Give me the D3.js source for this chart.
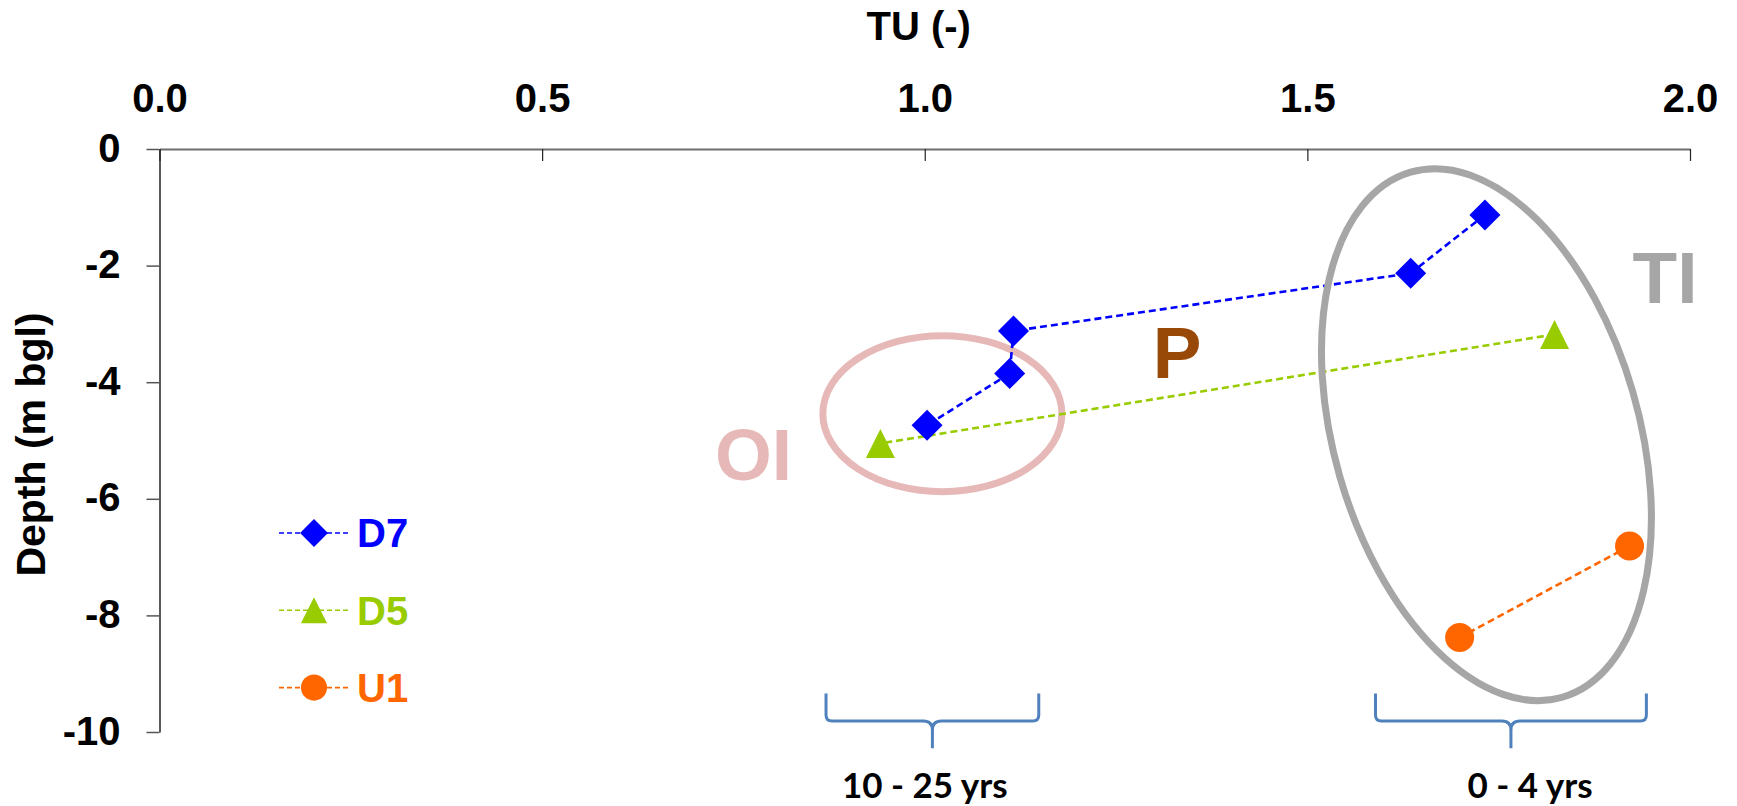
<!DOCTYPE html>
<html>
<head>
<meta charset="utf-8">
<script src="https://cdn.jsdelivr.net/npm/d3@7"></script>
<style>
  html, body { margin: 0; padding: 0; background: #fff; }
  svg { display: block; font-family: "Liberation Sans", Arial, sans-serif; }
</style>
</head>
<body>
<div id="chart"></div>
<script>
// series data (TU vs depth)
const seriesNames = ["D7", "D5", "U1"];
const d7TU = [1.732, 1.635, 1.116, 1.111, 1.003];
const d7Depth = [-1.13, -2.13, -3.12, -3.85, -4.74];
const d5TU = [1.823, 0.942];
const d5Depth = [-3.18, -5.05];
const u1TU = [1.921, 1.699];
const u1Depth = [-6.81, -8.38];

const xTicks = [0, 0.5, 1, 1.5, 2];
const yTicks = [0, -2, -4, -6, -8, -10];

// zone annotations
const zoneLabels = ["OI", "P", "TI"];
const zoneTU = [0.726, 1.298, 1.925];
const zoneDepth = [-5.68, -3.93, -2.64];

// age brackets under the plot
const ageLabels = ["10 - 25 yrs", "0 - 4 yrs"];
const ageFrom = [0.871, 1.589];
const ageTo = [1.149, 1.943];
const ageTextTU = [1.0, 1.791];

const W = 1737, H = 806;
const margin = { top: 149, right: 47, bottom: 74, left: 159.5 };

const x = d3.scaleLinear().domain([0, 2]).range([margin.left, W - margin.right]);
const y = d3.scaleLinear().domain([0, -10]).range([margin.top, H - margin.bottom]);

const colors = { D7: "#0000ff", D5: "#99cc00", U1: "#ff6600" };
const zoneColors = { OI: "#e6b9b8", P: "#984807", TI: "#a6a6a6" };

const series = [
  { name: "D7", shape: "diamond", pts: d7TU.map((v, i) => [v, d7Depth[i]]) },
  { name: "D5", shape: "triangle", pts: d5TU.map((v, i) => [v, d5Depth[i]]) },
  { name: "U1", shape: "circle", pts: u1TU.map((v, i) => [v, u1Depth[i]]) },
];

const svg = d3.select("#chart").append("svg").attr("width", W).attr("height", H);

function marker(sel, shape, k) {
  if (shape === "diamond") {
    const s = 15.5 * k;
    sel.append("path").attr("d", `M0,${-s}L${s},0L0,${s}L${-s},0Z`);
  } else if (shape === "triangle") {
    const s = 14.5 * k;
    sel.append("path").attr("d", `M0,${-s}L${s},${s}L${-s},${s}Z`);
  } else {
    sel.append("circle").attr("r", 14.5 * k);
  }
}

// pink ellipse (under the data)
svg.append("ellipse")
  .attr("cx", x(1.023)).attr("cy", y(-4.54))
  .attr("rx", 119.5).attr("ry", 78)
  .attr("fill", "none").attr("stroke", zoneColors.OI).attr("stroke-width", 7);

// axes
const xAxis = svg.append("g")
  .attr("transform", `translate(0,${margin.top})`)
  .call(d3.axisTop(x).tickValues(xTicks).tickFormat(d3.format(".1f"))
    .tickSizeInner(-12).tickSizeOuter(0).tickPadding(37));
xAxis.select(".domain").attr("stroke", "#6e6e6e").attr("stroke-width", 2);
xAxis.selectAll(".tick line").attr("stroke", "#222").attr("stroke-width", 1.2);
xAxis.selectAll(".tick text").attr("font-size", 40).attr("font-weight", "bold").attr("fill", "#000");

const yAxis = svg.append("g")
  .attr("transform", `translate(${margin.left},0)`)
  .call(d3.axisLeft(y).tickValues(yTicks).tickFormat(d => String(d))
    .tickSizeInner(13).tickSizeOuter(0).tickPadding(26));
yAxis.select(".domain").attr("stroke", "#222").attr("stroke-width", 1.5);
yAxis.selectAll(".tick line").attr("stroke", "#555").attr("stroke-width", 1.5);
yAxis.selectAll(".tick text").attr("font-size", 40).attr("font-weight", "bold").attr("fill", "#000").attr("dy", "0.3em");

// axis titles
svg.append("text")
  .attr("x", (x(0) + x(2)) / 2 - 6).attr("y", 40)
  .attr("text-anchor", "middle").attr("font-size", 40).attr("font-weight", "bold")
  .text("TU (-)");

svg.append("text")
  .attr("transform", `translate(45,${(y(0) + y(-10)) / 2 + 4}) rotate(-90)`)
  .attr("text-anchor", "middle").attr("font-size", 41).attr("font-weight", "bold")
  .text("Depth (m bgl)");

// series lines and markers
const line = d3.line().x(d => x(d[0])).y(d => y(d[1]));

series.forEach(s => {
  svg.append("path")
    .datum(s.pts)
    .attr("d", line)
    .attr("fill", "none")
    .attr("stroke", colors[s.name])
    .attr("stroke-width", 2.6)
    .attr("stroke-dasharray", "7,4");
});

series.forEach(s => {
  s.pts.forEach(p => {
    const g = svg.append("g")
      .attr("transform", `translate(${x(p[0])},${y(p[1])})`)
      .attr("fill", colors[s.name]);
    marker(g, s.shape, 1);
  });
});

// zone labels
zoneLabels.forEach((t, i) => {
  svg.append("text")
    .attr("x", x(zoneTU[i])).attr("y", y(zoneDepth[i]))
    .attr("font-size", 73).attr("font-weight", "bold")
    .attr("fill", zoneColors[t])
    .text(t);
});

// gray ellipse (drawn over the data)
svg.append("ellipse")
  .attr("transform", `translate(${x(1.734)},${y(-4.90)}) rotate(-16.1)`)
  .attr("rx", 152.5).attr("ry", 273.3)
  .attr("fill", "none").attr("stroke", zoneColors.TI).attr("stroke-width", 7);

// legend
const legend = svg.append("g").attr("transform", "translate(314,533)");
series.forEach((s, i) => {
  const row = legend.append("g").attr("transform", `translate(0,${i * 77.3})`);
  row.append("line")
    .attr("x1", -35).attr("x2", 34)
    .attr("stroke", colors[s.name]).attr("stroke-width", 1.6)
    .attr("stroke-dasharray", "5,3");
  const m = row.append("g").attr("fill", colors[s.name]);
  marker(m, s.shape, 0.9);
  row.append("text")
    .attr("x", 43).attr("dy", "0.36em")
    .attr("font-size", 40).attr("font-weight", "bold")
    .attr("fill", colors[s.name])
    .text(s.name);
});

// age brackets
const bTop = y(-9.34), bLine = y(-9.81), bBottom = y(-10.28);
ageLabels.forEach((t, i) => {
  const x1 = x(ageFrom[i]), x2 = x(ageTo[i]), sx = (x1 + x2) / 2;
  const r = 6, c = 9;
  const d = `M${x1},${bTop}L${x1},${bLine - r}Q${x1},${bLine} ${x1 + r},${bLine}` +
    `L${sx - c},${bLine}Q${sx},${bLine} ${sx},${bLine + c}L${sx},${bBottom}` +
    `M${sx},${bLine + c}Q${sx},${bLine} ${sx + c},${bLine}` +
    `L${x2 - r},${bLine}Q${x2},${bLine} ${x2},${bLine - r}L${x2},${bTop}`;
  svg.append("path").attr("d", d)
    .attr("fill", "none").attr("stroke", "#4f81bd").attr("stroke-width", 3);
  svg.append("text")
    .attr("x", x(ageTextTU[i])).attr("y", bBottom + 50)
    .attr("text-anchor", "middle")
    .attr("font-family", "Lato, 'Open Sans', sans-serif")
    .attr("font-size", 35).attr("font-weight", "bold")
    .attr("fill", "#000")
    .text(t);
});
</script>
</body>
</html>
